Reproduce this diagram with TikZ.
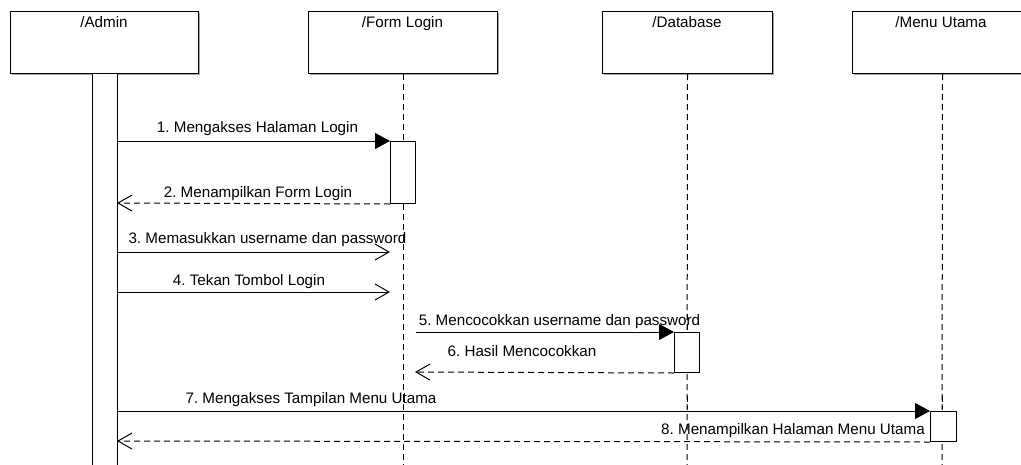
\documentclass[tikz,border=0pt]{standalone}
\usepackage{fontspec}
\setmainfont{Liberation Sans}
\frenchspacing
\usetikzlibrary{arrows.meta}
\begin{document}
\begin{tikzpicture}[x=1pt,y=-1pt,
  every node/.style={font=\fontsize{15.2}{18}\selectfont},
  part/.style={draw=black, fill=white, line width=1pt, inner sep=0pt, anchor=north west},
  shade/.style={fill=black!35, draw=none},
  bar/.style={draw=black, fill=white, line width=1pt, inner sep=0pt, anchor=north west, minimum width=25pt},
  lifeline/.style={draw=black, line width=1pt, dash pattern=on 6pt off 4pt},
  ptitle/.style={anchor=base, inner sep=0pt},
  mlabel/.style={anchor=base, inner sep=0pt},
  call/.style={draw=black, line width=1pt, -{Triangle[length=15pt,width=16pt]}},
  send/.style={draw=black, line width=1pt, -{Straight Barb[length=14pt,width=16pt]}},
  reply/.style={draw=black, line width=1pt, dash pattern=on 6pt off 4pt, -{Straight Barb[length=14pt,width=16pt]}}
]
\useasboundingbox (0,0) rectangle (1021,464);
\fill[white] (0,0) rectangle (1021,464);

% participant shadows
\fill[shade] (12,13) rectangle (200,75);
\fill[shade] (310,13) rectangle (499,75);
\fill[shade] (604,13) rectangle (774,75);
\fill[shade] (854,13) rectangle (1034,75);

% participants
\node[part, minimum width=188pt, minimum height=62pt] (admin) at (10,11) {};
\node[part, minimum width=189pt, minimum height=62pt] (form) at (308,11) {};
\node[part, minimum width=170pt, minimum height=62pt] (db) at (602,11) {};
\node[part, minimum width=180pt, minimum height=62pt] (menu) at (852,11) {};
\node[ptitle] (tadmin) at (104,27) {/Admin};
\node[ptitle] (tform) at (402.5,27) {/Form Login};
\node[ptitle] (tdb) at (687,27) {/Database};
\node[ptitle] (tmenu) at (941,27) {/Menu Utama};

% lifelines
\coordinate (formend) at (403,470);
\coordinate (dbend) at (687,470);
\coordinate (menuend) at (942,470);
\draw[lifeline] (form.south) -- (formend);
\draw[lifeline] (db.south) -- (dbend);
\draw[lifeline] (menu.south) -- (menuend);

% activation bars
\node[bar, minimum height=400pt] (abar) at (92,73) {};
\node[bar, minimum height=62pt] (fbar) at (390,141) {};
\node[bar, minimum height=40pt] (dbar) at (674,332) {};
\node[bar, minimum height=30pt, minimum width=26pt] (mbar) at (930,411) {};

% message end points
\coordinate (m1s) at (117,141);
\coordinate (m2e) at (117,203);
\coordinate (m3s) at (117,252);
\coordinate (m3e) at (390,252);
\coordinate (m4s) at (117,292);
\coordinate (m4e) at (390,292);
\coordinate (m6e) at (415,372);
\coordinate (m7s) at (117,411);
\coordinate (m8e) at (117,441);

% messages
\draw[call] (m1s) -- (fbar.north west);
\draw[reply] (fbar.south west) -- (m2e);
\draw[send] (m3s) -- (m3e);
\draw[send] (m4s) -- (m4e);
\draw[call] (fbar.east |- dbar.north) -- (dbar.north west);
\draw[reply] (dbar.south west) -- (m6e);
\draw[call] (m7s) -- (mbar.north west);
\draw[reply] (mbar.south west) -- (m8e);

% message labels
\node[mlabel] (l1) at (257.5,132) {1. Mengakses Halaman Login};
\node[mlabel] (l2) at (258,197) {2. Menampilkan Form Login};
\node[mlabel] (l3) at (267.5,243) {3. Memasukkan username dan password};
\node[mlabel] (l4) at (249,285) {4. Tekan Tombol Login};
\node[mlabel] (l5) at (559.5,325) {5. Mencocokkan username dan password};
\node[mlabel] (l6) at (522,356) {6. Hasil Mencocokkan};
\node[mlabel] (l7) at (311,403) {7. Mengakses Tampilan Menu Utama};
\node[mlabel] (l8) at (793,434) {8. Menampilkan Halaman Menu Utama};

% lifelines cross the labels they pass
\draw[lifeline] (403,236) -- (403,250);
\draw[lifeline] (687,314) -- (687,330);
\draw[lifeline] (403,396) -- (403,409);
\draw[lifeline] (687,396) -- (687,409);
\draw[lifeline] (942,396) -- (942,409);
\end{tikzpicture}
\end{document}
